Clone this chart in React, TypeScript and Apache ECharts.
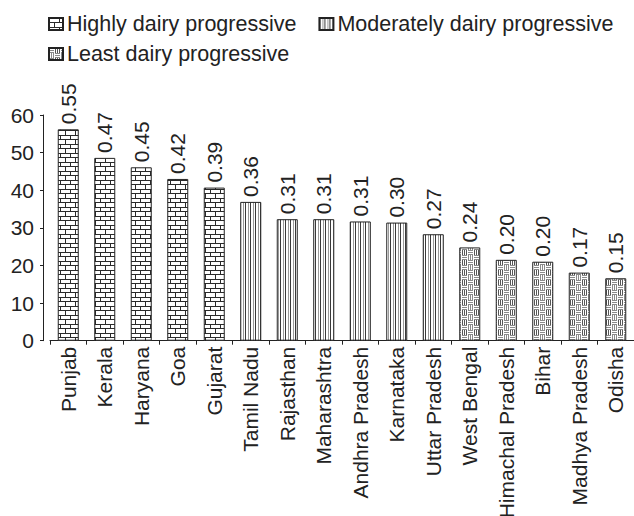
import React, { useEffect, useRef } from "react";
import * as echarts from "echarts";

const categories = [
  "Punjab", "Kerala", "Haryana", "Goa", "Gujarat", "Tamil Nadu", "Rajasthan", "Maharashtra",
  "Andhra Pradesh", "Karnataka", "Uttar Pradesh", "West Bengal", "Himachal Pradesh", "Bihar",
  "Madhya Pradesh", "Odisha",
];
const highlyValues = [56.2, 48.6, 46.1, 43.0, 40.7, null, null, null, null, null, null, null, null, null, null, null];
const moderatelyValues = [null, null, null, null, null, 36.9, 32.3, 32.3, 31.7, 31.4, 28.3, null, null, null, null, null];
const leastValues = [null, null, null, null, null, null, null, null, null, null, null, 24.8, 21.5, 21.0, 18.1, 16.6];
const indexLabels = ["0.55", "0.47", "0.45", "0.42", "0.39", "0.36", "0.31", "0.31", "0.31", "0.30", "0.27", "0.24", "0.20", "0.20", "0.17", "0.15"];
const seriesNames = ["Highly dairy progressive", "Moderately dairy progressive", "Least dairy progressive"];
const yTicks = { min: 0, max: 60, interval: 10 };

const FONT = "'Liberation Sans', Arial, sans-serif";
const INK = "#222";

function makeCanvas(w: number, h: number, draw: (ctx: CanvasRenderingContext2D) => void) {
  const c = document.createElement("canvas");
  c.width = w;
  c.height = h;
  const ctx = c.getContext("2d")!;
  ctx.fillStyle = "#fff";
  ctx.fillRect(0, 0, w, h);
  draw(ctx);
  return c;
}

function brickPattern() {
  return makeCanvas(10, 9, (ctx) => {
    ctx.fillStyle = "#2a2a2a";
    ctx.fillRect(0, 0, 10, 1);
    ctx.fillRect(0, 4, 10, 1);
    ctx.fillRect(0, 0, 1, 4);
    ctx.fillRect(5, 4, 1, 5);
  });
}

function stripePattern() {
  return makeCanvas(5, 4, (ctx) => {
    ctx.fillStyle = "#3a3a3a";
    ctx.fillRect(0, 0, 1, 4);
    ctx.fillStyle = "#9a9a9a";
    ctx.fillRect(3, 0, 1, 4);
  });
}

function leastPattern() {
  return makeCanvas(12, 10, (ctx) => {
    ctx.fillStyle = "#8a8a8a";
    for (let i = 0; i < 3; i++) {
      ctx.fillRect(0, i * 2, 5, 1);
      ctx.fillRect(6, 5 + i * 2, 5, 1);
      ctx.fillRect(i * 2, 5, 1, 5);
    }
    ctx.fillStyle = "#555";
    for (let i = 0; i < 3; i++) {
      ctx.fillRect(6 + i * 2, 0, 1, 5);
    }
  });
}

export default function App() {
  const ref = useRef<HTMLDivElement>(null);
  useEffect(() => {
    if (!ref.current) return;
    const chart = echarts.init(ref.current, undefined, { renderer: "svg" });
    const patterns = [brickPattern(), stripePattern(), leastPattern()];
    const dataSets = [highlyValues, moderatelyValues, leastValues];
    const series = dataSets.map((d, k) => ({
      name: seriesNames[k],
      type: "bar",
      stack: "all",
      barWidth: 21,
      data: d,
      itemStyle: {
        color: { image: patterns[k], repeat: "repeat" },
        borderColor: INK,
        borderWidth: 1,
      },
      label: {
        show: true,
        position: "top",
        rotate: 90,
        align: "left",
        verticalAlign: "middle",
        distance: 5,
        fontSize: 21,
        fontFamily: FONT,
        color: INK,
        formatter: (p: any) => indexLabels[p.dataIndex],
      },
    }));
    const legendCommon = {
      left: 43,
      orient: "horizontal",
      itemWidth: 14,
      itemHeight: 12,
      itemGap: 22,
      icon: "rect",
      textStyle: { fontSize: 21.5, fontFamily: FONT, color: INK, padding: [0, 0, 0, -1] },
      selectedMode: false,
    };
    chart.setOption({
      animation: false,
      backgroundColor: "#fff",
      legend: [
        { ...legendCommon, top: 8, data: [seriesNames[0], seriesNames[1]] },
        { ...legendCommon, top: 38, data: [seriesNames[2]] },
      ],
      grid: {
        left: 50,
        right: 0,
        top: 115,
        bottom: 175.3,
        containLabel: false,
        outerBoundsMode: "none",
      },
      xAxis: {
        type: "category",
        data: categories,
        axisLine: { lineStyle: { color: INK, width: 1 } },
        axisTick: { show: true, length: 4, interval: 0, lineStyle: { color: INK } },
        axisLabel: {
          interval: 0,
          rotate: 90,
          margin: 6,
          fontSize: 21,
          fontFamily: FONT,
          color: INK,
        },
      },
      yAxis: {
        type: "value",
        min: yTicks.min,
        max: yTicks.max,
        interval: yTicks.interval,
        offset: 7,
        splitLine: { show: false },
        axisLine: { show: true, lineStyle: { color: INK, width: 1 } },
        axisTick: { show: true, length: 3, lineStyle: { color: INK } },
        axisLabel: { margin: 9, fontSize: 21, fontFamily: FONT, color: INK },
      },
      series,
    });
    return () => chart.dispose();
  }, []);
  return (
    <div
      ref={ref}
      style={{ position: "fixed", left: 0, top: 0, width: 634, height: 516, background: "#fff" }}
    />
  );
}
